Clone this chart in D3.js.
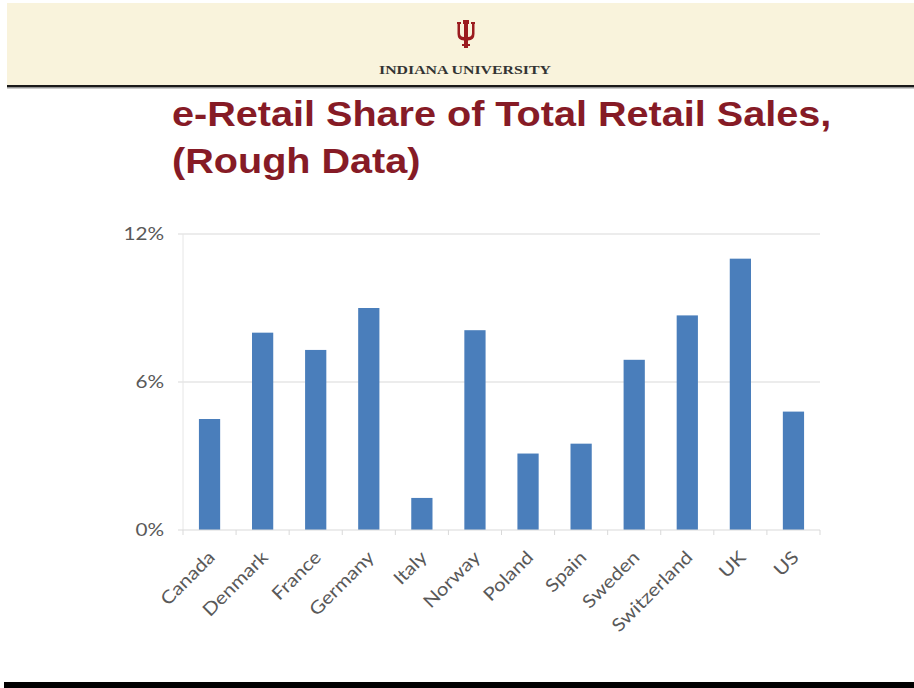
<!DOCTYPE html>
<html>
<head>
<meta charset="utf-8">
<script src="https://cdn.jsdelivr.net/npm/d3@7"></script>
<style>
  html, body { margin: 0; padding: 0; background: #ffffff; }
  svg { display: block; }
</style>
</head>
<body>
<svg id="chart" width="914" height="688"></svg>
<script>
// e-retail share of total retail sales, by country (percent)
const countries = ["Canada", "Denmark", "France", "Germany", "Italy", "Norway",
                   "Poland", "Spain", "Sweden", "Switzerland", "UK", "US"];
const shares = [4.5, 8.0, 7.3, 9.0, 1.3, 8.1, 3.1, 3.5, 6.9, 8.7, 11.0, 4.8];
const yTicks = [0, 6, 12];
const yTickLabels = ["0%", "6%", "12%"];

const titleLines = ["e-Retail Share of Total Retail Sales,", "(Rough Data)"];
const headerText = "INDIANA UNIVERSITY";

const svg = d3.select("#chart");
const W = 914, H = 688;

// ---- slide header ----
svg.append("rect").attr("x", 7).attr("y", 3).attr("width", W - 7).attr("height", 82)
  .attr("fill", "#f9f3dc");
svg.append("rect").attr("x", 7).attr("y", 85).attr("width", W - 7).attr("height", 2.5)
  .attr("fill", "#1a1a1a");
svg.append("rect").attr("x", 7).attr("y", 87.5).attr("width", W - 7).attr("height", 1)
  .attr("fill", "#9a9a9a");

// IU trident mark
const logo = svg.append("g").attr("transform", "translate(466,20)").attr("fill", "#9b1b1f");
logo.append("path").attr("d",
  "M-9,2 L-5,2 L-5,4 L-6,4 L-6,13 Q-6,17 -2,17 L-2,4 L-3,4 L-3,0 L3,0 L3,4 L2,4 L2,17 " +
  "Q6,17 6,13 L6,4 L5,4 L5,2 L9,2 L9,4 L8.5,4 L8.5,14 Q8.5,20 2,20.5 L2,24 L4,24 L4,26 " +
  "L2,26 L2,28 L-2,28 L-2,26 L-4,26 L-4,24 L-2,24 L-2,20.5 Q-8.5,20 -8.5,14 L-8.5,4 L-9,4 Z");

svg.append("text").attr("x", 465).attr("y", 74)
  .attr("text-anchor", "middle")
  .attr("font-family", "'Liberation Serif', 'DejaVu Serif', serif")
  .attr("font-weight", "bold").attr("font-size", 11.5)
  .attr("fill", "#333333")
  .attr("textLength", 172).attr("lengthAdjust", "spacingAndGlyphs")
  .text(headerText);

// ---- title ----
svg.append("g").attr("transform", "translate(172,0) scale(1.1,1)")
  .selectAll("text").data(titleLines).join("text")
  .attr("x", 0)
  .attr("y", (d, i) => 126 + i * 47)
  .attr("font-family", "'Liberation Sans', Arial, sans-serif")
  .attr("font-weight", "bold").attr("font-size", 36)
  .attr("fill", "#861b26")
  .text(d => d);

// ---- chart ----
const plot = { left: 183, right: 820, top: 234, bottom: 530 };

const x = d3.scaleBand().domain(countries)
  .range([plot.left, plot.right])
  .paddingInner(0.6).paddingOuter(0.3);

const y = d3.scaleLinear().domain([0, 12]).range([plot.bottom, plot.top]);

const labelColor = "#595959";
const gridColor = "#d9d9d9";
const labelFont = "Lato, 'Open Sans', sans-serif";
const labelStretch = 1.15;

// horizontal gridlines
svg.append("g").selectAll("line").data(yTicks.filter(t => t > 0)).join("line")
  .attr("x1", plot.left - 5).attr("x2", plot.right)
  .attr("y1", d => y(d)).attr("y2", d => y(d))
  .attr("stroke", gridColor).attr("stroke-width", 1.2);

// vertical axis line
svg.append("line")
  .attr("x1", plot.left).attr("x2", plot.left)
  .attr("y1", plot.top).attr("y2", plot.bottom)
  .attr("stroke", "#e6e6e6").attr("stroke-width", 1);

// y axis labels
const yAxis = d3.axisLeft(y).tickValues(yTicks)
  .tickFormat((d, i) => yTickLabels[i]).tickSize(0).tickPadding(19);
const gy = svg.append("g").attr("transform", `translate(${plot.left},0)`).call(yAxis);
gy.select(".domain").remove();
gy.selectAll("text")
  .attr("font-family", labelFont)
  .attr("font-size", 18).attr("fill", labelColor)
  .each(function () {
    const len = this.getComputedTextLength();
    d3.select(this).attr("textLength", len * labelStretch).attr("lengthAdjust", "spacingAndGlyphs");
  });

// bars
svg.append("g").selectAll("rect").data(shares).join("rect")
  .attr("x", (d, i) => x(countries[i]))
  .attr("y", d => y(d))
  .attr("width", x.bandwidth())
  .attr("height", d => y(0) - y(d))
  .attr("fill", "#4a7ebb");

// category axis with tick marks between categories
const step = x.step();
const boundaries = d3.range(countries.length + 1).map(i => plot.left + i * step);
svg.append("line")
  .attr("x1", plot.left - 5).attr("x2", plot.right)
  .attr("y1", plot.bottom).attr("y2", plot.bottom)
  .attr("stroke", gridColor).attr("stroke-width", 1.2);
svg.append("g").selectAll("line").data(boundaries).join("line")
  .attr("x1", d => d).attr("x2", d => d)
  .attr("y1", plot.bottom).attr("y2", plot.bottom + 5)
  .attr("stroke", gridColor).attr("stroke-width", 1);

// rotated category labels
svg.append("g").selectAll("text").data(countries).join("text")
  .attr("transform", d => `translate(${x(d) + x.bandwidth() / 2 + 2},${plot.bottom + 24}) rotate(-45)`)
  .attr("text-anchor", "end")
  .attr("dy", "0.35em")
  .attr("font-family", labelFont)
  .attr("font-size", 18).attr("fill", labelColor)
  .text(d => d)
  .each(function () {
    const len = this.getComputedTextLength();
    d3.select(this).attr("textLength", len * labelStretch).attr("lengthAdjust", "spacingAndGlyphs");
  });

// ---- slide footer bar ----
svg.append("rect").attr("x", 4).attr("y", 682).attr("width", W - 4).attr("height", 6)
  .attr("fill", "#000000");
</script>
</body>
</html>
